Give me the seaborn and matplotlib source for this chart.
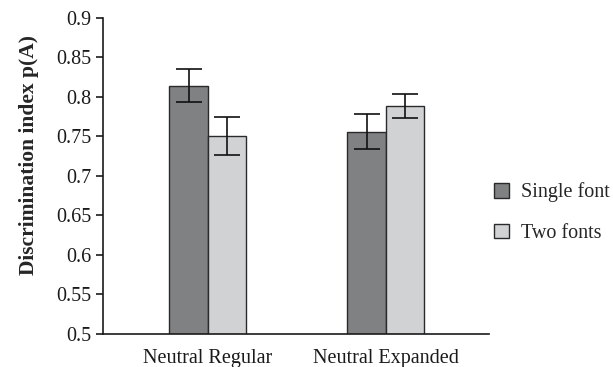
import pandas as pd
import numpy as np
import matplotlib.pyplot as plt
import seaborn as sns

conditions = ["Neutral Regular", "Neutral Expanded"]
fonts = ["Single font", "Two fonts"]
single_font = [0.814, 0.756]
two_fonts = [0.750, 0.788]
single_err = [0.021, 0.022]
two_err = [0.024, 0.015]
yticks = [0.5, 0.55, 0.6, 0.65, 0.7, 0.75, 0.8, 0.85, 0.9]

df = pd.DataFrame({
    "condition": conditions * 2,
    "font": [fonts[0]] * 2 + [fonts[1]] * 2,
    "value": single_font + two_fonts,
})
errs = {fonts[0]: single_err, fonts[1]: two_err}

sns.set_style("ticks")
plt.rcParams["font.family"] = ["Liberation Serif", "DejaVu Serif"]

fig = plt.figure(figsize=(6.13, 3.67), dpi=100)
ax = fig.add_axes([0.168, 0.090, 0.630, 0.862])

sns.barplot(data=df, x="condition", y="value", hue="font", order=conditions,
            hue_order=fonts, palette=["#7f8183", "#d1d2d4"], width=0.43,
            errorbar=None, edgecolor="#2a2a2a", linewidth=1.0, ax=ax)

# error bars at the centres of the drawn bars
for cont, f in zip(ax.containers, fonts):
    xs = [p.get_x() + p.get_width() / 2 for p in cont.patches]
    hs = [p.get_height() for p in cont.patches]
    ax.errorbar(xs, hs, yerr=errs[f], fmt="none", ecolor="#111111",
                elinewidth=1.2, capsize=9.5, capthick=1.2)

ax.set_ylim(0.5, 0.9)
ax.set_xlim(-0.588, 1.581)
ax.set_yticks(yticks)
ax.set_yticklabels([f"{t:g}" for t in yticks])
ax.tick_params(axis="y", labelsize=14.5, length=5, width=1.2, colors="#1a1a1a")
ax.tick_params(axis="x", labelsize=14.5, length=0, pad=11, colors="#1a1a1a")
ax.set_xlabel("")
ax.set_ylabel("Discrimination index p(A)", fontsize=15.5, fontweight="bold")
ax.yaxis.set_label_coords(-0.166, 0.566)
for s in ["top", "right"]:
    ax.spines[s].set_visible(False)
for s in ["left", "bottom"]:
    ax.spines[s].set_linewidth(1.2)
    ax.spines[s].set_color("#1a1a1a")

handles, labels = ax.get_legend_handles_labels()
ax.legend(handles, labels, loc="center left", bbox_to_anchor=(0.965, 0.383),
          frameon=False, fontsize=14.5, handlelength=0.75, handleheight=0.75,
          labelspacing=1.05, handletextpad=0.6)

fig.savefig("out.png", dpi=100)
